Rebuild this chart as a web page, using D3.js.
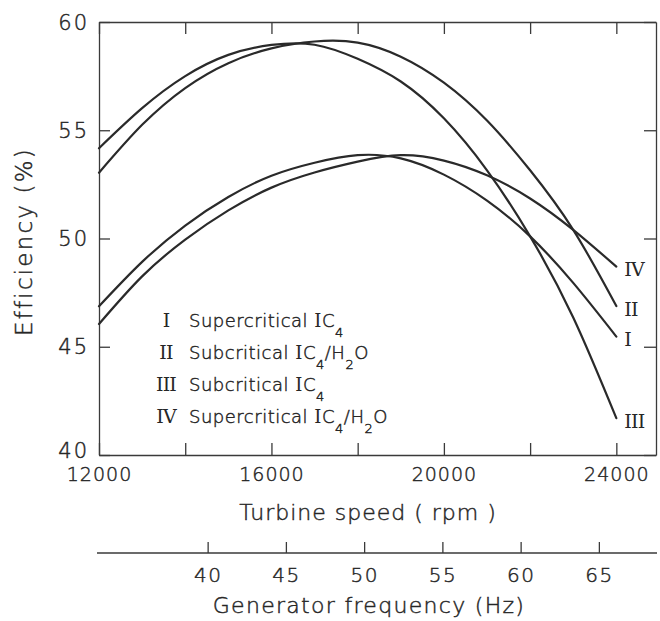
<!DOCTYPE html>
<html>
<head>
<meta charset="utf-8">
<script src="https://cdn.jsdelivr.net/npm/d3@7"></script>
<style>
  body { margin: 0; background: #fff; }
  svg text { fill: #262626; stroke: #262626; stroke-width: 0.45px;
             font-family: "DejaVu Sans", sans-serif; font-weight: 200; }
  .frame .domain, .frame .tick line { stroke: #3a3a3a; stroke-width: 1.3; }
  svg .numeral { font-family: "DejaVu Serif", "Liberation Serif", serif; font-weight: 400;
                 stroke: none; }
</style>
</head>
<body>
<svg id="chart" width="660" height="621"></svg>
<script>
// Turbine speed samples (rpm) shared by every curve
const turbineSpeed = [12000, 13000, 14000, 15000, 16000, 17000, 18000,
                      19000, 20000, 21000, 22000, 23000, 24000];

// Efficiency (%) for each working fluid
const supercriticalIC4    = [46.87, 48.92, 50.60, 51.92, 52.90, 53.50, 53.85,
                             53.70, 52.95, 51.75, 50.10, 47.95, 45.47];   // I
const subcriticalIC4H2O   = [53.04, 55.25, 56.95, 58.10, 58.78, 59.10, 59.05,
                             58.40, 57.20, 55.45, 53.15, 50.40, 46.88];   // II
const subcriticalIC4      = [54.17, 56.02, 57.50, 58.48, 58.94, 58.95, 58.30,
                             57.25, 55.55, 53.15, 50.10, 46.35, 41.70];   // III
const supercriticalIC4H2O = [46.05, 48.25, 49.95, 51.30, 52.35, 53.05, 53.55,
                             53.85, 53.60, 52.92, 51.85, 50.40, 48.70];   // IV

const seriesNumerals = ["I", "II", "III", "IV"];
const seriesRegimes  = ["Supercritical", "Subcritical", "Subcritical", "Supercritical"];
const seriesFluids   = ["IC4", "IC4/H2O", "IC4", "IC4/H2O"];

// Axis ticks
const speedTicks      = [12000, 14000, 16000, 18000, 20000, 22000, 24000];
const speedTickLabels = [12000, 16000, 20000, 24000];
const efficiencyTicks = [40, 45, 50, 55, 60];
const frequencyTicks  = [40, 45, 50, 55, 60, 65];
const rpmPerHz = 363;   // turbine rpm per hertz of generator output

const svg = d3.select("#chart");

const x  = d3.scaleLinear().domain([12000, 24920]).range([99, 656]);
const y  = d3.scaleLinear().domain([40, 60]).range([455, 22]);
const hz = d3.scaleLinear().domain(x.domain().map(v => v / rpmPerHz)).range(x.range());

const [x0, x1] = x.range();
const [yBottom, yTop] = y.range();

// ---- Frame with inward ticks -------------------------------------------
const frame = svg.append("g").attr("class", "frame");

const bottomAxis = frame.append("g")
  .attr("transform", `translate(0,${yBottom})`)
  .call(d3.axisBottom(x).tickValues(speedTicks).tickSizeInner(-12).tickSizeOuter(0)
        .tickPadding(13).tickFormat(d => speedTickLabels.includes(d) ? d : ""));

frame.append("g")
  .attr("transform", `translate(0,${yTop})`)
  .call(d3.axisTop(x).tickValues(speedTicks).tickSizeInner(-12).tickSizeOuter(0)
        .tickFormat(() => ""));

const leftAxis = frame.append("g")
  .attr("transform", `translate(${x0},0)`)
  .call(d3.axisLeft(y).tickValues(efficiencyTicks).tickSizeInner(-11).tickSizeOuter(0)
        .tickPadding(10).tickFormat(d3.format("d")));

frame.append("g")
  .attr("transform", `translate(${x1},0)`)
  .call(d3.axisRight(y).tickValues(efficiencyTicks).tickSizeInner(-12).tickSizeOuter(0)
        .tickFormat(() => ""));

bottomAxis.selectAll("text").style("font-size", "19px").style("letter-spacing", "1px");
// the corner label sits a little higher so it clears the speed labels
leftAxis.selectAll("text").style("font-size", "21px").style("letter-spacing", "2px")
  .attr("dy", d => d === y.domain()[0] ? "0.12em" : "0.34em");
frame.selectAll(".tick text").attr("fill", null);

// ---- Generator frequency axis ------------------------------------------
const hzAxis = frame.append("g")
  .attr("transform", "translate(0,553)")
  .call(d3.axisBottom(hz).tickValues(frequencyTicks).tickSizeInner(-11).tickSizeOuter(0)
        .tickPadding(15).tickFormat(d3.format("d")));
hzAxis.selectAll("text").attr("fill", null)
  .style("font-size", "20px").style("letter-spacing", "1.5px");
hzAxis.select(".domain").attr("d", `M${x0 - 2},0H${x1 + 1}`);

// ---- Axis titles --------------------------------------------------------
svg.append("text")
  .attr("transform", `translate(32,${(yTop + yBottom) / 2 + 3}) rotate(-90)`)
  .attr("text-anchor", "middle")
  .style("font-size", "23px").style("letter-spacing", "2.2px")
  .text("Efficiency (%)");

svg.append("text")
  .attr("x", 368).attr("y", 520)
  .attr("text-anchor", "middle")
  .style("font-size", "22px").style("letter-spacing", "1px")
  .text("Turbine speed ( rpm )");

svg.append("text")
  .attr("x", 369).attr("y", 613)
  .attr("text-anchor", "middle")
  .style("font-size", "22px").style("letter-spacing", "1.3px")
  .text("Generator frequency (Hz)");

// ---- Efficiency curves ---------------------------------------------------
const series = [supercriticalIC4, subcriticalIC4H2O, subcriticalIC4, supercriticalIC4H2O]
  .map((values, i) => ({
    numeral: seriesNumerals[i],
    points: turbineSpeed.map((s, j) => [s, values[j]])
  }));

const line = d3.line()
  .x(d => x(d[0])).y(d => y(d[1]))
  .curve(d3.curveNatural);

svg.append("g").selectAll("path")
  .data(series).join("path")
  .attr("d", d => line(d.points))
  .attr("fill", "none")
  .attr("stroke", "#2a2a2a")
  .attr("stroke-width", 2.2)
  .attr("stroke-linecap", "round");

// Numerals at the end of each curve
svg.append("g").selectAll("text")
  .data(series).join("text")
  .attr("class", "numeral")
  .attr("x", d => x(d.points[d.points.length - 1][0]) + 8)
  .attr("y", d => y(d.points[d.points.length - 1][1]) + 9.5)
  .style("font-size", "19px").style("letter-spacing", "-0.8px")
  .text(d => d.numeral);

// ---- Legend --------------------------------------------------------------
const legend = svg.append("g");
seriesNumerals.forEach((num, i) => {
  const baseY = 327 + i * 32;
  legend.append("text")
    .attr("class", "numeral")
    .attr("x", 166).attr("y", baseY)
    .attr("text-anchor", "middle")
    .style("font-size", "19px").style("letter-spacing", "-0.8px")
    .text(num);

  const t = legend.append("text")
    .attr("x", 189).attr("y", baseY)
    .style("font-size", "18px").style("letter-spacing", "0.5px");
  t.append("tspan").text(seriesRegimes[i] + " ");
  // Formula: "I" in serif, digits as subscripts
  const fluid = seriesFluids[i];
  let lowered = false;
  for (const ch of fluid) {
    const isDigit = /[0-9]/.test(ch);
    const span = t.append("tspan").text(ch);
    if (ch === "I") span.attr("class", "numeral").style("font-size", "18px");
    if (isDigit && !lowered) { span.attr("dy", 10).style("font-size", "13px"); lowered = true; }
    else if (!isDigit && lowered) { span.attr("dy", -10); lowered = false; }
  }
});
</script>
</body>
</html>
